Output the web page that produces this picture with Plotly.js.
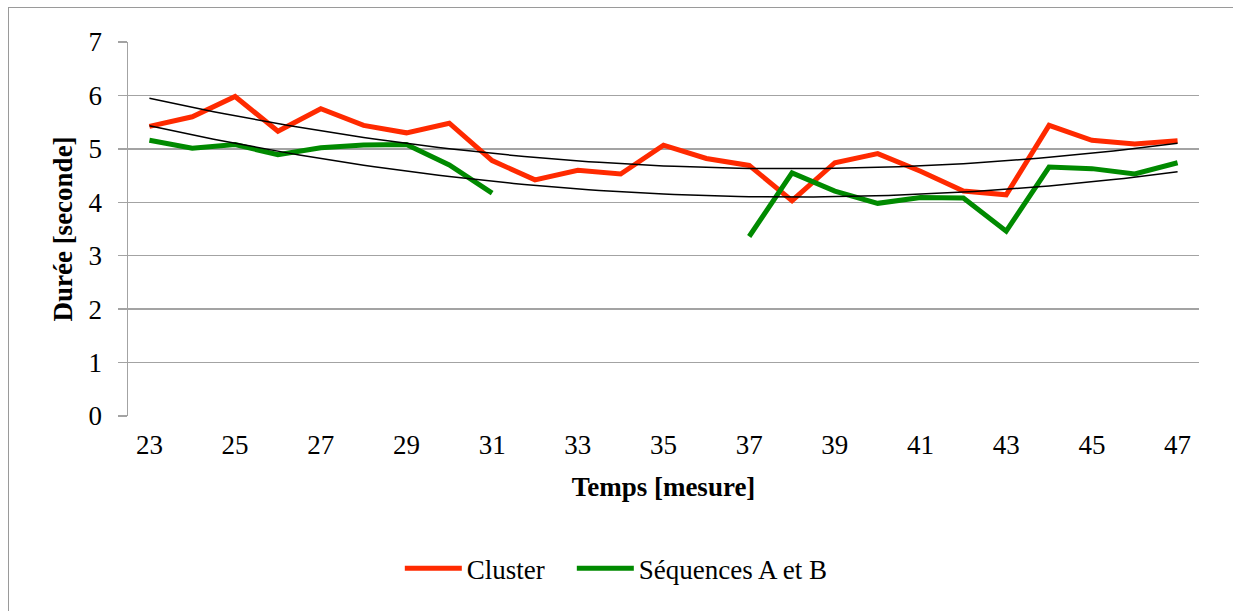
<!DOCTYPE html>
<html>
<head>
<meta charset="utf-8">
<script src="https://cdn.plot.ly/plotly-3.0.1.min.js"></script>
<style>
  html, body { margin: 0; padding: 0; background: #fff; }
  #wrap { position: relative; width: 1233px; height: 611px; overflow: hidden; }
  #chart { width: 1233px; height: 611px; }
  #frame { position: absolute; left: 8px; top: 7px; width: 1240px; height: 620px;
           border: 1px solid #9a9a9a; pointer-events: none; }
</style>
</head>
<body>
<div id="wrap"><div id="chart"></div><div id="frame"></div></div>
<script>
// ---- data ----
const categories = [23,24,25,26,27,28,29,30,31,32,33,34,35,36,37,38,39,40,41,42,43,44,45,46,47];
const clusterValues = [5.42,5.60,5.98,5.33,5.75,5.44,5.30,5.48,4.78,4.42,4.60,4.53,5.07,4.82,4.69,4.03,4.74,4.91,4.58,4.21,4.14,5.44,5.16,5.09,5.15];
const seqABValues   = [5.16,5.01,5.08,4.89,5.02,5.07,5.08,4.70,4.17,null,null,null,null,null,3.36,4.55,4.21,3.98,4.09,4.08,3.46,4.66,4.63,4.53,4.74];
const tickLabels = ['23','25','27','29','31','33','35','37','39','41','43','45','47'];
const seriesNames = ['Cluster', 'Séquences A et B'];
const xTitle = 'Temps [mesure]';
const yTitle = 'Durée [seconde]';

// ---- order-2 polynomial least-squares trend (like Excel's trendline) ----
function polyTrend(xs, ys) {
  const pts = [];
  xs.forEach((x, i) => { if (ys[i] !== null) pts.push([x, ys[i]]); });
  const xm = pts.reduce((s, p) => s + p[0], 0) / pts.length;
  let S = [0,0,0,0,0], T = [0,0,0];
  pts.forEach(([x, y]) => {
    const u = x - xm;
    for (let k = 0; k < 5; k++) S[k] += Math.pow(u, k);
    for (let k = 0; k < 3; k++) T[k] += y * Math.pow(u, k);
  });
  const A = [[S[0],S[1],S[2],T[0]],[S[1],S[2],S[3],T[1]],[S[2],S[3],S[4],T[2]]];
  for (let c = 0; c < 3; c++) {
    for (let r = c + 1; r < 3; r++) {
      const f = A[r][c] / A[c][c];
      for (let k = c; k < 4; k++) A[r][k] -= f * A[c][k];
    }
  }
  const b = [0,0,0];
  for (let r = 2; r >= 0; r--) {
    let s = A[r][3];
    for (let k = r + 1; k < 3; k++) s -= A[r][k] * b[k];
    b[r] = s / A[r][r];
  }
  const x0 = xs[0], x1 = xs[xs.length - 1];
  const tx = [], ty = [];
  for (let i = 0; i <= 96; i++) {
    const x = x0 + (x1 - x0) * i / 96, u = x - xm;
    tx.push(x); ty.push(b[0] + b[1] * u + b[2] * u * u);
  }
  return {x: tx, y: ty};
}

const trendC = polyTrend(categories, clusterValues);
const trendS = polyTrend(categories, seqABValues);

const boundaries = [];
for (let i = 0; i < categories.length - 1; i += 2) boundaries.push(categories[i] - 0.5);

const FONT = 'Liberation Serif, DejaVu Serif, serif';
const GRID = '#a3a3a3';

const traces = [
  { x: categories, y: clusterValues, name: seriesNames[0], type: 'scatter', mode: 'lines',
    line: {color: '#ff2a00', width: 5}, connectgaps: false, legend: 'legend' },
  { x: categories, y: seqABValues, name: seriesNames[1], type: 'scatter', mode: 'lines',
    line: {color: '#008a00', width: 5}, connectgaps: false, legend: 'legend2' },
  { x: trendC.x, y: trendC.y, type: 'scatter', mode: 'lines', showlegend: false,
    line: {color: '#000', width: 1.5}, hoverinfo: 'skip' },
  { x: trendS.x, y: trendS.y, type: 'scatter', mode: 'lines', showlegend: false,
    line: {color: '#000', width: 1.5}, hoverinfo: 'skip' }
];

const legendBase = {orientation: 'h', xanchor: 'left', y: -0.408, yanchor: 'middle',
  font: {family: FONT, size: 27, color: '#000'}, itemwidth: 57, bgcolor: 'rgba(0,0,0,0)'};

const layout = {
  width: 1233, height: 611,
  margin: {l: 128, r: 34, t: 42, b: 195},
  paper_bgcolor: '#fff', plot_bgcolor: '#fff',
  font: {family: FONT, size: 27, color: '#000'},
  showlegend: true,
  legend: Object.assign({}, legendBase, {x: 0.2538}),
  legend2: Object.assign({}, legendBase, {x: 0.4144}),
  xaxis: {
    range: [categories[0] - 0.5, categories[categories.length - 1] + 0.5],
    tickmode: 'array', tickvals: tickLabels.map(Number), ticktext: tickLabels,
    ticks: '', showgrid: false, zeroline: false, showline: false,
    tickfont: {family: FONT, size: 27, color: '#000'}, ticklabelstandoff: 10,
    title: {text: '<b>' + xTitle + '</b>', font: {family: FONT, size: 27, color: '#000'}, standoff: 18}
  },
  xaxis2: {
    overlaying: 'x', anchor: 'free', position: 0.015,
    range: [categories[0] - 0.5, categories[categories.length - 1] + 0.5],
    tickmode: 'array', tickvals: boundaries, showticklabels: false,
    ticks: 'outside', ticklen: 8, tickwidth: 1.5, tickcolor: GRID,
    showline: true, linecolor: GRID, linewidth: 1.5, showgrid: false, zeroline: false
  },
  yaxis: {
    range: [0, 7], tickmode: 'array', tickvals: [0,1,2,3,4,5,6,7],
    ticks: 'outside', ticklen: 9, tickwidth: 1.5, tickcolor: GRID,
    showline: true, linecolor: GRID, linewidth: 1.5,
    showgrid: true, gridcolor: GRID, gridwidth: 1.5, zeroline: false,
    tickfont: {family: FONT, size: 27, color: '#000'}, ticklabelstandoff: 10,
    title: {text: '<b>' + yTitle + '</b>', font: {family: FONT, size: 27, color: '#000'}, standoff: 8}
  }
};

Plotly.newPlot('chart', traces, layout, {staticPlot: true, displayModeBar: false});
</script>
</body>
</html>
